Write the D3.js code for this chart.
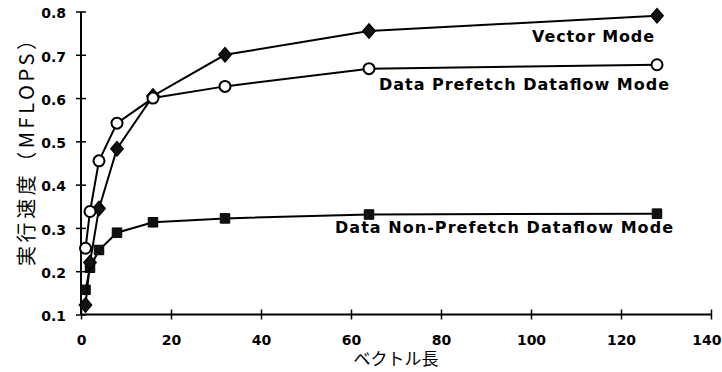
<!DOCTYPE html>
<html>
<head>
<meta charset="utf-8">
<script src="https://cdn.jsdelivr.net/npm/d3@7"></script>
<style>
  body { margin: 0; background: #fff; }
  svg { display: block; }
  .tick text { font-family: "DejaVu Sans", sans-serif; font-weight: bold; font-size: 14px; fill: #000; }
  .lbl { font-family: "DejaVu Sans", sans-serif; font-weight: bold; font-size: 16px; fill: #000; }
  .title { fill: #000; }
</style>
</head>
<body>
<svg id="chart" width="722" height="372"></svg>
<script>
// Data
var vectorLen = [1, 2, 4, 8, 16, 32, 64, 128];
var vectorMode = [0.122, 0.22, 0.345, 0.483, 0.605, 0.70, 0.755, 0.79];
var prefetchMode = [0.253, 0.338, 0.455, 0.542, 0.60, 0.627, 0.668, 0.677];
var nonPrefetchMode = [0.157, 0.208, 0.249, 0.289, 0.313, 0.322, 0.331, 0.333];
var xTicks = [0, 20, 40, 60, 80, 100, 120, 140];
var yTicks = [0.1, 0.2, 0.3, 0.4, 0.5, 0.6, 0.7, 0.8];

var svg = d3.select("#chart");

var x = d3.scaleLinear().domain([0, 140]).range([81, 711]);
var y = d3.scaleLinear().domain([0.1, 0.8]).range([314.5, 11.5]);

// axes
var xAxis = svg.append("g")
	.attr("transform", "translate(0," + y(0.1) + ")")
	.call(d3.axisBottom(x).tickValues(xTicks).tickFormat(d3.format("d")).tickSize(5).tickPadding(16));
xAxis.select(".domain").attr("stroke", "#000").attr("stroke-width", 2).attr("d", "M" + x(0) + ",0H" + x(140));
xAxis.selectAll(".tick line").attr("y1", -5).attr("y2", 5).attr("stroke-width", 1.5);
// last label sits against the right edge
xAxis.selectAll(".tick text").filter(function(d) { return d == 140; })
	.attr("text-anchor", "end").attr("dx", 10);

var yAxis = svg.append("g")
	.attr("transform", "translate(" + x(0) + ",0)")
	.call(d3.axisLeft(y).tickValues(yTicks).tickFormat(d3.format(".1f")).tickSize(5).tickPadding(10));
yAxis.select(".domain").attr("stroke", "#000").attr("stroke-width", 2).attr("d", "M0," + y(0.1) + "V" + y(0.8));
yAxis.selectAll(".tick line").attr("x1", -5).attr("x2", 5).attr("stroke-width", 1.5);
yAxis.selectAll(".tick text").attr("dy", "0.45em");

// axis titles
svg.append("text")
	.attr("class", "title")
	.attr("x", 396).attr("y", 365)
	.attr("text-anchor", "middle")
	.style("font-family", "'Noto Sans CJK JP', sans-serif")
	.style("font-size", "17px")
	.text("ベクトル長");

svg.append("text")
	.attr("class", "title")
	.attr("transform", "translate(34,148) rotate(-90)")
	.attr("text-anchor", "middle")
	.attr("textLength", 236)
	.attr("lengthAdjust", "spacing")
	.style("font-family", "'Noto Sans CJK JP', sans-serif")
	.style("font-size", "20px")
	.text("実行速度（MFLOPS）");

// series
var line = d3.line()
	.x(function(d) { return x(d[0]); })
	.y(function(d) { return y(d[1]); });

function pts(vals) {
	return vectorLen.map(function(v, i) { return [v, vals[i]]; });
}

var series = [
	{ vals: nonPrefetchMode, mark: "square" },
	{ vals: vectorMode, mark: "diamond" },
	{ vals: prefetchMode, mark: "circle" }
];

series.forEach(function(s) {
	var data = pts(s.vals);
	svg.append("path")
		.datum(data)
		.attr("d", line)
		.attr("fill", "none")
		.attr("stroke", "#000")
		.attr("stroke-width", 2);

	var g = svg.append("g");
	if (s.mark == "circle") {
		g.selectAll("circle").data(data).enter().append("circle")
			.attr("cx", function(d) { return x(d[0]); })
			.attr("cy", function(d) { return y(d[1]); })
			.attr("r", 5.5)
			.attr("fill", "#fff")
			.attr("stroke", "#000")
			.attr("stroke-width", 2);
	} else if (s.mark == "square") {
		g.selectAll("path").data(data).enter().append("path")
			.attr("transform", function(d) { return "translate(" + x(d[0]) + "," + y(d[1]) + ")"; })
			.attr("d", d3.symbol().type(d3.symbolSquare).size(90))
			.attr("fill", "#111")
			.attr("stroke", "#000")
			.attr("stroke-width", 1);
	} else {
		// squat diamond, wider than d3's default
		g.selectAll("path").data(data).enter().append("path")
			.attr("transform", function(d) { return "translate(" + x(d[0]) + "," + y(d[1]) + ") scale(1.5,1)"; })
			.attr("d", d3.symbol().type(d3.symbolDiamond).size(60))
			.attr("fill", "#111")
			.attr("stroke", "#000")
			.attr("stroke-width", 1);
	}
});

// labels
var labels = [
	{ text: "Vector Mode", x: 654, y: 42, w: 122 },
	{ text: "Data Prefetch Dataflow Mode", x: 669, y: 90, w: 290 },
	{ text: "Data Non-Prefetch Dataflow Mode", x: 673, y: 233, w: 338 }
];

labels.forEach(function(l) {
	svg.append("text")
		.attr("class", "lbl")
		.attr("x", l.x - l.w).attr("y", l.y)
		.attr("textLength", l.w)
		.attr("lengthAdjust", "spacing")
		.text(l.text);
});
</script>
</body>
</html>
